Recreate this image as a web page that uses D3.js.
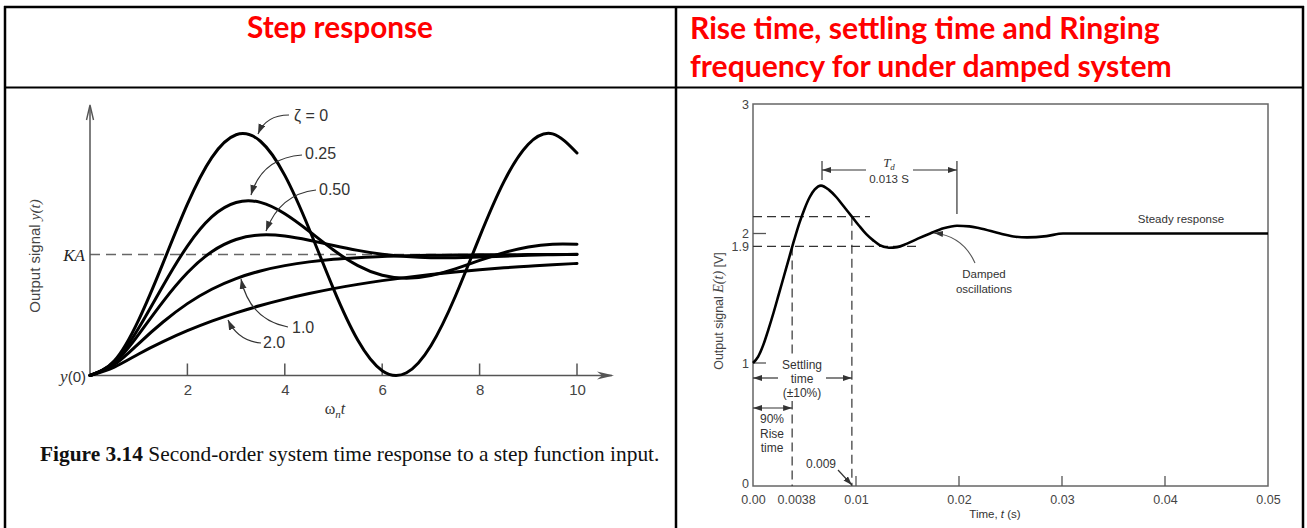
<!DOCTYPE html>
<html><head><meta charset="utf-8">
<script src="https://cdn.jsdelivr.net/npm/d3@7"></script>
<style>body{margin:0;background:#fff;} svg{display:block;}</style>
</head><body>
<svg id="c" width="1307" height="528"></svg>
<script>
// ---------- Left panel data (normalised step response y/KA vs ωn·t) ----------
const wnT     = [0,0.5,1,1.5,2,2.5,3,3.5,4,4.5,5,5.5,6,6.5,7,7.5,8,8.5,9,9.5,10];
const zeta0   = [0,0.122,0.460,0.929,1.416,1.801,1.990,1.936,1.654,1.211,0.716,0.291,0.040,0.023,0.246,0.653,1.146,1.602,1.911,1.997,1.839];
const zeta025 = [0,0.113,0.392,0.742,1.070,1.311,1.430,1.431,1.337,1.192,1.037,0.908,0.828,0.803,0.826,0.881,0.951,1.015,1.062,1.085,1.085];
const zeta050 = [0,0.104,0.340,0.611,0.849,1.023,1.124,1.162,1.153,1.118,1.075,1.034,1.002,0.983,0.974,0.974,0.979,0.986,0.993,0.998,1.002];
const zeta100 = [0,0.090,0.264,0.442,0.594,0.713,0.801,0.864,0.908,0.939,0.960,0.973,0.983,0.989,0.993,0.995,0.997,0.998,0.999,0.999,1.000];
const zeta200 = [0,0.070,0.178,0.280,0.370,0.449,0.518,0.578,0.631,0.677,0.718,0.753,0.784,0.811,0.835,0.856,0.874,0.890,0.903,0.916,0.926];
const zetaLabels = ["ζ = 0","0.25","0.50","1.0","2.0"];
const wnTicks = [2,4,6,8,10];
const steadyKA = 1;

// ---------- Right panel data (E(t) in V vs t in s) ----------
const ringT = [0,0.0005,0.0010,0.0015,0.0020,0.0025,0.0030,0.0035,0.0040,0.0045,0.0050,0.0055,0.0060,0.0066,0.0074,0.0081,0.0088,0.0096,0.0103,0.0110,0.0117,0.0123,0.0132,0.0140,0.0149,0.0160,0.0172,0.0185,0.0198,0.0210,0.0220,0.0240,0.0255,0.0266,0.0285,0.0301,0.0350,0.0400,0.0450,0.0500];
const ringE = [1.00,1.05,1.14,1.26,1.39,1.53,1.67,1.81,1.95,2.08,2.19,2.28,2.34,2.37,2.335,2.28,2.21,2.13,2.06,1.995,1.945,1.91,1.89,1.895,1.92,1.96,2.00,2.04,2.06,2.055,2.04,2.00,1.975,1.97,1.98,2.00,2.00,2.00,2.00,2.00];
const timeTickVals = [0,0.0038,0.01,0.02,0.03,0.04,0.05];
const timeTickText = ["0.00","0.0038","0.01","0.02","0.03","0.04","0.05"];
const timeTickMarks = [0.01,0.02,0.03,0.04];
const eTickVals = [0,1,1.9,2,3];
const eTickText = ["0","1","1.9","2","3"];
const eTickMarks = [1,2];
const riseTime = 0.0038, settleTime = 0.0096, bandLow = 1.9, bandHigh = 2.13;
const peak1T = 0.0067, peak2T = 0.0198;

const SANS = "'Liberation Sans', Arial, sans-serif";
const SERIF = "'Liberation Serif', 'Times New Roman', serif";
const svg = d3.select("#c");

function fit(sel, w){
  const l = sel.node().getComputedTextLength();
  const fs = parseFloat(sel.attr("font-size"));
  sel.attr("font-size", fs * w / l);
}

// markers
const defs = svg.append("defs");
defs.append("marker").attr("id","ah").attr("markerUnits","userSpaceOnUse")
  .attr("markerWidth",11).attr("markerHeight",8).attr("refX",10).attr("refY",3.5)
  .attr("orient","auto-start-reverse")
  .append("path").attr("d","M0,0 L10,3.5 L0,7 Z").attr("fill","#333");
defs.append("marker").attr("id","ah2").attr("markerUnits","userSpaceOnUse")
  .attr("markerWidth",10).attr("markerHeight",8).attr("refX",9).attr("refY",3)
  .attr("orient","auto-start-reverse")
  .append("path").attr("d","M0,0 L9,3 L0,6 Z").attr("fill","#333");

// ---------- table ----------
const tbl = svg.append("g").attr("stroke","#000").attr("fill","none");
tbl.append("line").attr("x1",4).attr("x2",1304).attr("y1",7).attr("y2",7).attr("stroke-width",2.5);
tbl.append("line").attr("x1",4).attr("x2",1304).attr("y1",87.5).attr("y2",87.5).attr("stroke-width",2);
[5,676,1303].forEach(x=>tbl.append("line").attr("x1",x).attr("x2",x).attr("y1",6).attr("y2",528).attr("stroke-width",2.5));

const h1 = svg.append("text").attr("x",340).attr("y",38).attr("text-anchor","middle")
  .attr("font-family","Lato, 'Open Sans', sans-serif").attr("font-weight","bold").attr("font-size",28)
  .attr("fill","#ff0000").text("Step response");
fit(h1,186);
const h2 = svg.append("text").attr("x",690).attr("y",39)
  .attr("font-family","Lato, 'Open Sans', sans-serif").attr("font-weight","bold").attr("font-size",28)
  .attr("fill","#ff0000").text("Rise time, settling time and Ringing");
fit(h2,470);
const h3 = svg.append("text").attr("x",690).attr("y",77)
  .attr("font-family","Lato, 'Open Sans', sans-serif").attr("font-weight","bold").attr("font-size",28)
  .attr("fill","#ff0000").text("frequency for under damped system");
fit(h3,482);

// ---------- LEFT PANEL ----------
const xL = d3.scaleLinear().domain([0,10]).range([90,577]);
const yL = d3.scaleLinear().domain([0,1]).range([375.5,254.5]);
const L = svg.append("g");

// dashed KA line
L.append("line").attr("x1",xL(0)).attr("x2",xL(10)).attr("y1",yL(steadyKA)).attr("y2",yL(steadyKA))
  .attr("stroke","#666").attr("stroke-width",1.5).attr("stroke-dasharray","10,6");

// axes
L.append("line").attr("x1",xL(0)).attr("x2",612).attr("y1",yL(0)).attr("y2",yL(0)).attr("stroke","#555").attr("stroke-width",1.5);
L.append("line").attr("x1",xL(0)).attr("x2",xL(0)).attr("y1",yL(0)).attr("y2",106).attr("stroke","#555").attr("stroke-width",1.5);
L.append("path").attr("d","M86.5,120 L90,105 L93.5,120").attr("fill","none").attr("stroke","#555").attr("stroke-width",1.4);
L.append("path").attr("d",`M597,${yL(0)-4} L614,${yL(0)} L597,${yL(0)+4} L602,${yL(0)} Z`).attr("fill","#555");

const xAxisL = d3.axisBottom(xL).tickValues(wnTicks).tickSize(0).tickPadding(9).tickFormat(d3.format("d"));
const gax = L.append("g").attr("transform",`translate(0,${yL(0)})`).call(xAxisL);
gax.select(".domain").remove();
gax.selectAll("text").attr("font-family",SANS).attr("font-size",15).attr("fill","#444");
L.selectAll(".tk").data(wnTicks).enter().append("line")
  .attr("x1",d=>xL(d)).attr("x2",d=>xL(d)).attr("y1",yL(0)).attr("y2",yL(0)-12)
  .attr("stroke","#555").attr("stroke-width",1.5);

// labels
const xlab = L.append("text").attr("x",335).attr("y",414).attr("text-anchor","middle").attr("fill","#333").attr("font-family",SERIF).attr("font-size",16);
xlab.append("tspan").text("ω");
xlab.append("tspan").attr("font-style","italic").attr("font-size",11).attr("dy",4).text("n");
xlab.append("tspan").attr("font-style","italic").attr("dy",-4).text("t");

L.append("text").attr("x",85).attr("y",261).attr("text-anchor","end").attr("font-family",SERIF)
  .attr("font-style","italic").attr("font-size",17).attr("fill","#222").text("KA");
const y0 = L.append("text").attr("x",86).attr("y",382).attr("text-anchor","end").attr("fill","#333").attr("font-size",15);
y0.append("tspan").attr("font-family",SERIF).attr("font-style","italic").attr("font-size",17).text("y");
y0.append("tspan").attr("font-family",SANS).text("(0)");

const yl = L.append("text").attr("transform","translate(40,256) rotate(-90)").attr("text-anchor","middle")
  .attr("fill","#444").attr("font-size",15);
yl.append("tspan").attr("font-family",SANS).text("Output signal ");
yl.append("tspan").attr("font-family",SERIF).attr("font-style","italic").text("y(t)");

// curves
const lineL = d3.line().x(d=>xL(d[0])).y(d=>yL(d[1])).curve(d3.curveNatural);
[zeta0,zeta025,zeta050,zeta100,zeta200].forEach(s=>{
  L.append("path").datum(wnT.map((t,i)=>[t,s[i]])).attr("d",lineL)
    .attr("fill","none").attr("stroke","#000").attr("stroke-width",3).attr("stroke-linecap","round");
});

// curve labels + leaders
const labPos = [[294,121],[305,159],[319,195],[292,333],[263,348]];
const leaders = ["M289,115 Q266,115 258,134","M302,155 Q262,158 251,195","M316,190 Q280,194 266,231",
                 "M288,327 Q250,320 241,279","M261,343 Q238,341 228,320"];
zetaLabels.forEach((t,i)=>{
  L.append("text").attr("x",labPos[i][0]).attr("y",labPos[i][1]).attr("font-family",SANS)
    .attr("font-size",16).attr("fill","#333").text(t);
  L.append("path").attr("d",leaders[i]).attr("fill","none").attr("stroke","#333").attr("stroke-width",1.2)
    .attr("marker-end","url(#ah)");
});

// caption
const cap = L.append("text").attr("x",40).attr("y",461).attr("font-family",SERIF).attr("font-size",18).attr("fill","#111");
cap.append("tspan").attr("font-weight","bold").text("Figure 3.14");
cap.append("tspan").text(" Second-order system time response to a step function input.");
fit(cap,620);

// ---------- RIGHT PANEL ----------
const xR = d3.scaleLinear().domain([0,0.05]).range([753,1268]);
const yR = d3.scaleLinear().domain([0,1,3]).range([486,363,104]);
const R = svg.append("g");

R.append("rect").attr("x",xR(0)).attr("y",yR(3)).attr("width",xR(0.05)-xR(0)).attr("height",yR(0)-yR(3))
  .attr("fill","none").attr("stroke","#666").attr("stroke-width",1.5);

R.selectAll(".xt").data(timeTickMarks).enter().append("line")
  .attr("x1",d=>xR(d)).attr("x2",d=>xR(d)).attr("y1",yR(0)).attr("y2",yR(0)-10).attr("stroke","#555").attr("stroke-width",1.3);
R.selectAll(".yt").data(eTickMarks).enter().append("line")
  .attr("x1",xR(0)).attr("x2",xR(0)+13).attr("y1",d=>yR(d)).attr("y2",d=>yR(d)).attr("stroke","#555").attr("stroke-width",1.3);

const xAxR = d3.axisBottom(xR).tickValues(timeTickVals).tickSize(0).tickPadding(9).tickFormat((d,i)=>timeTickText[i]);
const gxr = R.append("g").attr("transform",`translate(0,${yR(0)})`).call(xAxR);
gxr.select(".domain").remove();
gxr.selectAll("text").attr("font-family",SANS).attr("font-size",12.5).attr("fill","#444")
  .attr("dx",(d,i)=>timeTickText[i]==="0.0038"?4:0);
const yAxR = d3.axisLeft(yR).tickValues(eTickVals).tickSize(0).tickPadding(4).tickFormat((d,i)=>eTickText[i]);
const gyr = R.append("g").attr("transform",`translate(${xR(0)},0)`).call(yAxR);
gyr.select(".domain").remove();
gyr.selectAll("text").attr("font-family",SANS).attr("font-size",12.5).attr("fill","#444")
  .attr("dy",(d)=>d===0?"0.1em":"0.32em");

const ylr = R.append("text").attr("transform","translate(723,311) rotate(-90)").attr("text-anchor","middle")
  .attr("fill","#444").attr("font-size",12.5);
ylr.append("tspan").attr("font-family",SANS).text("Output  signal  ");
ylr.append("tspan").attr("font-family",SERIF).attr("font-style","italic").attr("font-size",14).text("E(t)");
ylr.append("tspan").attr("font-family",SANS).text("  [V]");

const xlr = R.append("text").attr("x",995).attr("y",518).attr("text-anchor","middle").attr("fill","#333")
  .attr("font-family",SANS).attr("font-size",11.5);
xlr.append("tspan").text("Time, ");
xlr.append("tspan").attr("font-style","italic").text("t");
xlr.append("tspan").text(" (s)");

// dashed guides
const dash = {stroke:"#333","stroke-width":1.2,"stroke-dasharray":"9,5"};
function dl(x1,y1,x2,y2){const l=R.append("line").attr("x1",x1).attr("y1",y1).attr("x2",x2).attr("y2",y2);Object.entries(dash).forEach(([k,v])=>l.attr(k,v));}
dl(xR(0),yR(bandHigh),870,yR(bandHigh));
dl(xR(0),yR(bandLow),921,yR(bandLow));
dl(xR(riseTime),yR(bandLow),xR(riseTime),yR(0));
dl(xR(settleTime),yR(bandHigh),xR(settleTime),yR(0));

// response curve
const lineR = d3.line().x((d)=>xR(d[0])).y(d=>yR(d[1])).curve(d3.curveMonotoneX);
R.append("path").datum(ringT.map((t,i)=>[t,ringE[i]])).attr("d",lineR)
  .attr("fill","none").attr("stroke","#000").attr("stroke-width",2.6);

// Td annotation
const tdY = 170;
R.append("line").attr("x1",xR(peak1T)).attr("x2",xR(peak1T)).attr("y1",161).attr("y2",180).attr("stroke","#333").attr("stroke-width",1.2);
R.append("line").attr("x1",xR(peak2T)).attr("x2",xR(peak2T)).attr("y1",161).attr("y2",214).attr("stroke","#333").attr("stroke-width",1.2);
R.append("line").attr("x1",866).attr("x2",xR(peak1T)).attr("y1",tdY).attr("y2",tdY).attr("stroke","#333").attr("stroke-width",1.2).attr("marker-end","url(#ah2)");
R.append("line").attr("x1",913).attr("x2",xR(peak2T)).attr("y1",tdY).attr("y2",tdY).attr("stroke","#333").attr("stroke-width",1.2).attr("marker-end","url(#ah2)");
const td = R.append("text").attr("x",889).attr("y",167).attr("text-anchor","middle").attr("font-family",SERIF).attr("font-style","italic").attr("font-size",13).attr("fill","#333");
td.append("tspan").text("T");
td.append("tspan").attr("font-size",9).attr("dy",3).text("d");
R.append("text").attr("x",889).attr("y",183).attr("text-anchor","middle").attr("font-family",SANS).attr("font-size",11.5).attr("fill","#333").text("0.013 S");

// settling time (text box knocks out the dashed line)
R.append("rect").attr("x",780).attr("y",357).attr("width",44).attr("height",44).attr("fill","#fff");
R.append("line").attr("x1",778).attr("x2",xR(0)).attr("y1",378).attr("y2",378).attr("stroke","#333").attr("stroke-width",1.2).attr("marker-end","url(#ah2)");
R.append("line").attr("x1",826).attr("x2",xR(settleTime)).attr("y1",378).attr("y2",378).attr("stroke","#333").attr("stroke-width",1.2).attr("marker-end","url(#ah2)");
[["Settling",369],["time",383],["(±10%)",397]].forEach(([t,y])=>R.append("text").attr("x",802).attr("y",y).attr("text-anchor","middle").attr("font-family",SANS).attr("font-size",12).attr("fill","#333").text(t));

// rise time
R.append("line").attr("x1",xR(0)).attr("x2",xR(riseTime)).attr("y1",408).attr("y2",408).attr("stroke","#333").attr("stroke-width",1.2)
  .attr("marker-start","url(#ah2)").attr("marker-end","url(#ah2)");
[["90%",423],["Rise",438],["time",452]].forEach(([t,y])=>R.append("text").attr("x",772).attr("y",y).attr("text-anchor","middle").attr("font-family",SANS).attr("font-size",12).attr("fill","#333").text(t));

// 0.009
R.append("text").attr("x",821).attr("y",468).attr("text-anchor","middle").attr("font-family",SANS).attr("font-size",12).attr("fill","#333").text("0.009");
R.append("line").attr("x1",838).attr("y1",470).attr("x2",xR(settleTime)).attr("y2",yR(0)-1).attr("stroke","#333").attr("stroke-width",1.2).attr("marker-end","url(#ah2)");

// damped oscillations
R.append("path").attr("d","M975,263 Q963,236 934,233").attr("fill","none").attr("stroke","#555").attr("stroke-width",1.1).attr("marker-end","url(#ah2)");
[["Damped",278],["oscillations",293]].forEach(([t,y])=>R.append("text").attr("x",984).attr("y",y).attr("text-anchor","middle").attr("font-family",SANS).attr("font-size",11.5).attr("fill","#333").text(t));
R.append("text").attr("x",1181).attr("y",223).attr("text-anchor","middle").attr("font-family",SANS).attr("font-size",11.5).attr("fill","#333").text("Steady response");
</script>
</body></html>
